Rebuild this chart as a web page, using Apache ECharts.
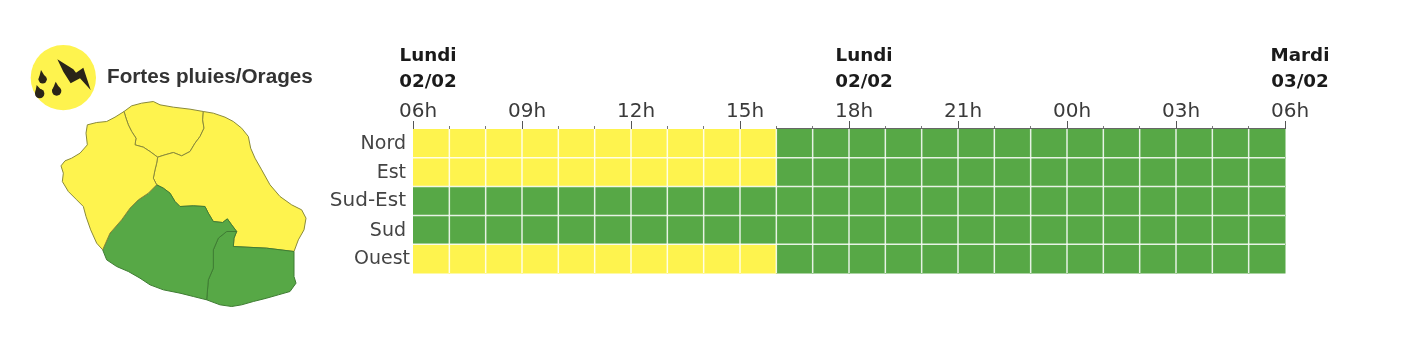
<!DOCTYPE html>
<html><head><meta charset="utf-8">
<style>html,body{margin:0;padding:0;background:#fff}#c{width:1404px;height:362px}</style>
<script src="https://cdn.jsdelivr.net/npm/echarts@6/dist/echarts.min.js"></script>
</head><body><div id="c"></div>
<script>
// ---- data ----
const zones = ['Nord','Est','Sud-Est','Sud','Ouest'];
const hourTickLabels = ['06h','09h','12h','15h','18h','21h','00h','03h','06h'];
const dayTickLabels = ['Lundi\n02/02','Lundi\n02/02','Mardi\n03/02'];
const nord   = [1,1,1,1,1,1,1,1,1,1,0,0,0,0,0,0,0,0,0,0,0,0,0,0];
const est    = [1,1,1,1,1,1,1,1,1,1,0,0,0,0,0,0,0,0,0,0,0,0,0,0];
const sudEst = [0,0,0,0,0,0,0,0,0,0,0,0,0,0,0,0,0,0,0,0,0,0,0,0];
const sud    = [0,0,0,0,0,0,0,0,0,0,0,0,0,0,0,0,0,0,0,0,0,0,0,0];
const ouest  = [1,1,1,1,1,1,1,1,1,1,0,0,0,0,0,0,0,0,0,0,0,0,0,0];
const zoneLevels = [nord,est,sudEst,sud,ouest];
const levelColors = ['#57a846','#fef34e'];
const legendTitle = 'Fortes pluies/Orages';

// ---- island outline (shape of the map, drawn by the library's geo layout) ----
const edgeNO = [[473,382],[450,365],[430,352],[405,345],[408,325],[395,305],[385,285],[378,265],[372,245]];
const edgeOS = [[308,660],[330,610],[365,570],[390,535],[415,510],[445,490],[470,465]];
const edgeOC = [[470,465],[460,445],[465,420],[470,400],[473,382]];
const edgeNE = [[610,245],[608,270],[612,295],[600,320],[585,340],[570,365],[545,378],[520,368],[495,375],[473,382]];
const edgeEG = [[710,605],[695,585],[682,567],[668,578],[640,575],[625,550],[615,530],[580,528],[540,530],[525,515],[510,490],[490,475],[470,465]];
const edgeSS = [[620,810],[625,750],[640,715],[640,660],[655,625],[680,605],[710,605]];
const shapes = {
  'Ouest': [[372,245],[345,262],[320,275],[290,278],[262,285],[258,310],[262,345],[240,370],[215,385],[195,393],[183,408],[190,430],[187,455],[205,485],[230,510],[250,530],[258,560],[272,600],[290,640],
    ...edgeOS, ...edgeOC.slice(1), ...edgeNO.slice(1,-1)],
  'Nord': [[372,245],[395,228],[425,220],[460,215],[480,225],[520,232],[570,238],
    ...edgeNE, ...edgeNO.slice(1,-1)],
  'Est': [[610,245],[640,250],[675,262],[700,275],[725,295],[745,320],[752,355],[765,385],[785,420],[810,465],[840,500],[875,525],[905,540],[918,565],[912,600],[895,630],[882,665],[800,655],[700,650],[702,625],
    ...edgeEG, ...edgeOC.slice(1), ...edgeNE.slice().reverse().slice(1,-1)],
  'Sud-Est': [[882,665],[882,740],[888,760],[870,785],[835,795],[800,805],[760,815],[725,825],[695,830],[660,825],
    ...edgeSS, [702,625],[700,650],[800,655]],
  'Sud': [[308,660],[320,690],[350,710],[385,725],[420,745],[450,765],[490,780],[540,790],[580,800],
    ...edgeSS, ...edgeEG.slice(1), ...edgeOS.slice().reverse().slice(1,-1)]
};
const geoJson = {type:'FeatureCollection',features:zones.map(n=>({type:'Feature',properties:{name:n},
  geometry:{type:'Polygon',coordinates:[[...shapes[n],shapes[n][0]]]}}))};
echarts.registerMap('reunion',geoJson);

const cells=[];
zoneLevels.forEach((row,z)=>row.forEach((lv,h)=>cells.push([h,z,lv])));
const font='"DejaVu Sans"';
const ink='#2a2418';
const gridLine='rgba(255,255,255,0.85)';

const chart=echarts.init(document.getElementById('c'),null,{renderer:'canvas'});
chart.setOption({
  animation:false,
  backgroundColor:'#fff',
  grid:{left:413,top:129,width:872,height:144},
  xAxis:[{
    type:'value',position:'top',min:0,max:24,interval:3,
    axisLine:{show:false},
    axisTick:{show:true,length:8,lineStyle:{color:'#555',width:1}},
    minorTick:{show:true,splitNumber:3,length:3,lineStyle:{color:'#777',width:1}},
    splitLine:{show:false},minorSplitLine:{show:false},
    axisLabel:{fontFamily:font,fontSize:20,color:'#3a3a3a',margin:7,padding:[0,0,0,10],
      formatter:v=>hourTickLabels[v/3]}
  },{
    type:'value',position:'top',min:0,max:24,interval:12,
    axisLine:{show:false},axisTick:{show:false},splitLine:{show:false},
    axisLabel:{fontFamily:font,fontSize:18.3,fontWeight:'bold',color:'#1a1a1a',lineHeight:26,margin:34,padding:[0,0,0,30],
      formatter:v=>dayTickLabels[v/12]}
  }],
  yAxis:{type:'category',inverse:true,data:zones,
    axisLine:{show:false},axisTick:{show:false},splitLine:{show:false},
    axisLabel:{fontFamily:font,color:'#444',margin:3,
      formatter:v=>v==='Sud-Est'?'{w|'+v+'}':v==='Ouest'?'{o|'+v+'}':'{n|'+v+'}',
      rich:{
        n:{fontFamily:font,fontSize:19,color:'#444',padding:[2,4,0,0]},
        w:{fontFamily:font,fontSize:20,color:'#444',padding:[0,4,0,0]},
        o:{fontFamily:font,fontSize:19,color:'#444',padding:[0,0,0,0]}
      }}},
  geo:{map:'reunion',roam:false,silent:true,
    projection:{project:p=>[p[0],p[1]],unproject:p=>[p[0],p[1]]},
    left:61,top:101.5,width:245,height:205,
    label:{show:false},
    itemStyle:{borderColor:'#6f7434',borderWidth:1,areaColor:levelColors[1]},
    emphasis:{disabled:true},
    regions:zones.map((n,i)=>{
      const c=levelColors[Math.max(...zoneLevels[i])];
      return {name:n,itemStyle:{areaColor:c,borderColor:c===levelColors[0]?'#3f7d33':'#8a8a3a'}};
    })},
  graphic:[{
    type:'group',x:0,y:30,scaleX:1/3,scaleY:1/3,silent:true,children:[
      {type:'circle',shape:{cx:190,cy:143,r:98},style:{fill:levelColors[1]}},
      {type:'polygon',shape:{points:[[172,88],[220,118],[228,128],[250,113],[272,180],[240,145],[212,160],[190,125]]},style:{fill:ink}},
      {type:'polygon',shape:{points:[[123,120],[140,148],[116,148]]},style:{fill:ink}},
      {type:'circle',shape:{cx:128,cy:148,r:12.5},style:{fill:ink}},
      {type:'polygon',shape:{points:[[167,155],[184,183],[156,183]]},style:{fill:ink}},
      {type:'circle',shape:{cx:170,cy:183,r:14},style:{fill:ink}},
      {type:'polygon',shape:{points:[[110,165],[133,190],[105,192]]},style:{fill:ink}},
      {type:'circle',shape:{cx:119,cy:191,r:14},style:{fill:ink}}
    ]
  },{
    type:'text',x:107,y:77,silent:true,
    style:{text:legendTitle,font:'bold 20.7px "Liberation Sans"',fill:'#333',textVerticalAlign:'middle'}
  }],
  series:[{
    type:'custom',coordinateSystem:'cartesian2d',silent:true,
    encode:{x:0,y:1},data:cells,
    renderItem:(params,api)=>{
      const h=api.value(0),z=api.value(1),lv=api.value(2);
      const a=api.coord([h,z]),b=api.coord([h+1,z]),s=api.size([0,1]);
      const x0=a[0],x1=b[0],y0=a[1]-s[1]/2;
      return {type:'rect',shape:{x:x0,y:y0,width:x1-x0+0.5,height:s[1]+0.5},style:{fill:levelColors[lv]}};
    }
  },{
    type:'custom',coordinateSystem:'cartesian2d',silent:true,
    encode:{x:0,y:1},data:cells,
    renderItem:(params,api)=>{
      const h=api.value(0),z=api.value(1),lv=api.value(2);
      const a=api.coord([h,z]),b=api.coord([h+1,z]),s=api.size([0,1]);
      const x0=a[0],x1=b[0],y0=a[1]-s[1]/2,y1=a[1]+s[1]/2;
      const kids=[];
      if(h>0) kids.push({type:'line',shape:{x1:x0,y1:y0,x2:x0,y2:y1},style:{stroke:gridLine,lineWidth:1.5}});
      if(z>0) kids.push({type:'line',shape:{x1:x0,y1:y0,x2:x1,y2:y0},style:{stroke:gridLine,lineWidth:1.5}});
      if(z===0&&lv===0) kids.push({type:'line',shape:{x1:x0,y1:y0-0.5,x2:x1,y2:y0-0.5},style:{stroke:'#666',lineWidth:1}});
      return {type:'group',children:kids};
    }
  }]
});
</script></body></html>
